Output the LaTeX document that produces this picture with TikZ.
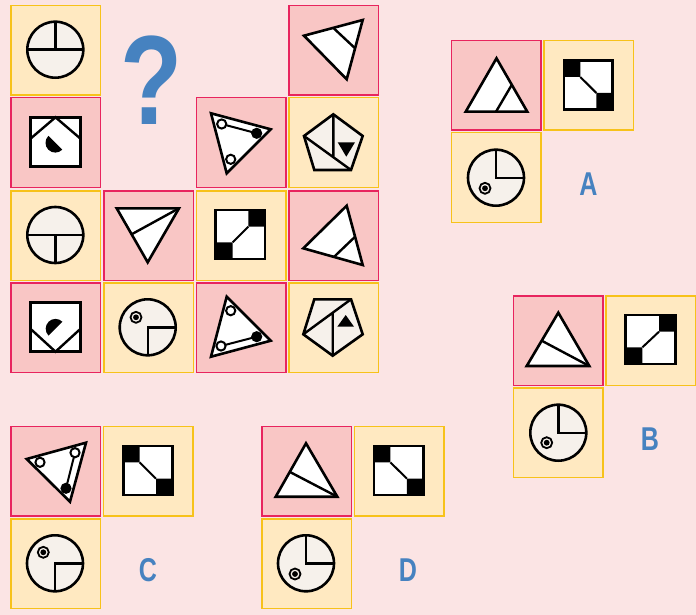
\documentclass[tikz,border=0pt]{standalone}
\usepackage{fontspec}
\setmainfont{Liberation Sans}
\definecolor{bg}{HTML}{FBE4E4}
\definecolor{redf}{HTML}{F9C6C5}
\definecolor{redb}{HTML}{E8245E}
\definecolor{yelf}{HTML}{FFE9C1}
\definecolor{yelb}{HTML}{F7C21A}
\definecolor{cream}{HTML}{F6F1EB}
\definecolor{qblue}{HTML}{4682C0}
\newcommand\myeye[1]{\draw[line width=1.8pt, fill=cream] #1 circle[radius=5.5]; \fill #1 circle[radius=2.9];}
\newcommand\myopen[1]{\draw[line width=2pt, fill=white] #1 circle[radius=4.6];}
\newcommand\myfull[1]{\fill #1 circle[radius=5.6];}
\begin{document}
\begin{tikzpicture}[x=1pt,y=-1pt,
  redcell/.style={draw=redb, fill=redf, line width=1.5pt, minimum size=89.5pt, inner sep=0pt},
  yelcell/.style={draw=yelb, fill=yelf, line width=1.5pt, minimum size=89.5pt, inner sep=0pt},
  shp/.style={draw=black, line width=2.6pt, fill=white},
  disk/.style={draw=black, line width=2.6pt, fill=cream},
  ln/.style={draw=black, line width=2.4pt},
  lbl/.style={text=qblue, anchor=base, inner sep=0pt, font=\bfseries\fontsize{33}{33}\selectfont}]
\useasboundingbox (0,0) rectangle (696,615);
\fill[bg] (0,0) rectangle (696,615);
% ---- main grid cells
\node[yelcell] (m11) at (55.5,50.5) {};
\node[redcell] (m21) at (55.5,142.5) {};
\node[yelcell] (m31) at (55.5,235.5) {};
\node[redcell] (m41) at (55.5,327.5) {};
\node[redcell] (m32) at (148.5,235.5) {};
\node[yelcell] (m42) at (148.5,327.5) {};
\node[redcell] (m23) at (241,142.5) {};
\node[yelcell] (m33) at (241,235.5) {};
\node[redcell] (m43) at (241,327.5) {};
\node[redcell] (m14) at (333.5,50.5) {};
\node[yelcell] (m24) at (333.5,142.5) {};
\node[redcell] (m34) at (333.5,235.5) {};
\node[yelcell] (m44) at (333.5,327.5) {};
\node[text=qblue, anchor=base, inner sep=0pt, font=\bfseries\fontsize{127}{127}\selectfont] (qm) at (151.5,124.3) {\scalebox{0.8}[1]{?}};
% ---- options cells
\node[redcell] (a1) at (496,85.5) {};
\node[yelcell] (a2) at (588.5,85.5) {};
\node[yelcell] (a3) at (496,177.5) {};
\node[redcell] (b1) at (558,340.5) {};
\node[yelcell] (b2) at (650.5,340.5) {};
\node[yelcell] (b3) at (558,432.5) {};
\node[redcell] (c1) at (55.5,471) {};
\node[yelcell] (c2) at (148,471) {};
\node[yelcell] (c3) at (55.5,563.5) {};
\node[redcell] (d1) at (306.5,471) {};
\node[yelcell] (d2) at (399,471) {};
\node[yelcell] (d3) at (306.5,563.5) {};
\node[lbl] (la) at (588.5,195.7) {\scalebox{0.76}[1]{A}};
\node[lbl] (lb) at (650,450.7) {\scalebox{0.76}[1]{B}};
\node[lbl] (lc) at (148,581.7) {\scalebox{0.76}[1]{C}};
\node[lbl] (ld) at (408,581.7) {\scalebox{0.76}[1]{D}};
% ---- main shapes
% r1c1
\draw[disk] (55.3,49.7) circle[radius=28];
\draw[ln] (27.3,49.7) -- (83.3,49.7) (55.3,21.7) -- (55.3,49.7);
% r2c1
\draw[shp] (30.7,117.3) rectangle (80.3,166.7);
\draw[ln] (30.7,138.5) -- (55.5,117.3) -- (80.3,138.5);
\fill (55.3,142.8) ++(45:9.8) arc[start angle=45, end angle=225, radius=9.8] -- cycle;
% r3c1
\draw[disk] (55.3,235) circle[radius=28];
\draw[ln] (27.3,235) -- (83.3,235) (55.3,235) -- (55.3,263);
% r4c1
\draw[shp] (30.7,302.3) rectangle (80.3,351.7);
\draw[ln] (30.7,329) -- (55.5,351.7) -- (80.3,329);
\fill (55.5,328.7) ++(135:9.8) arc[start angle=135, end angle=315, radius=9.8] -- cycle;
% r3c2
\draw[shp] (116.7,208.3) -- (179,208.3) -- (147.7,262.3) -- cycle;
\draw[ln] (179,208.3) -- (131.6,234.3);
% r4c2
\draw[disk] (147.7,327.3) circle[radius=28];
\draw[ln] (175.7,327.3) -- (147.7,327.3) -- (147.7,355.3);
\myeye{(136,317.3)}
% r2c3
\draw[shp] (211,113.3) -- (270.7,129.3) -- (226.7,173.3) -- cycle;
\draw[ln, line width=2pt] (221.7,124) -- (256.7,133.3);
\myopen{(221.7,124)} \myopen{(230.7,159.3)} \myfull{(256.7,133.3)}
% r1c4
\draw[shp] (304,35.7) -- (362.7,20) -- (346.7,79.3) -- cycle;
\draw[ln] (333.3,27.9) -- (355.1,48.3);
% r2c4
\draw[disk] (333.3,114.3) -- (362.7,136) -- (351,170) -- (314.3,170) -- (304,136) -- cycle;
\draw[ln] (333.3,114.3) -- (333.3,157.2) (304,136) -- (351,170);
\fill (337.7,142.3) -- (355,142.3) -- (346.3,156.7) -- cycle;
% r3c3
\draw[shp] (215.7,210) rectangle (265,259);
\fill (248.3,210) rectangle (265,226.7) (215.7,242.3) rectangle (232.7,259);
\draw[ln, line width=2pt] (232.7,242.3) -- (248.3,226.7);
\draw[line width=2.6pt] (215.7,210) rectangle (265,259);
% r3c4
\draw[shp] (303.3,248.3) -- (346.7,205.7) -- (362.7,265) -- cycle;
\draw[ln] (355.1,236.7) -- (334,256.9);
% r4c3
\draw[shp] (226.7,296.7) -- (270.7,340.7) -- (211,356.7) -- cycle;
\draw[ln, line width=2pt] (221,346) -- (256.7,336.7);
\myopen{(230.7,310.7)} \myopen{(221,346)} \myfull{(256.7,336.7)}
% r4c4
\draw[disk] (314.3,299.3) -- (351,299.3) -- (362.7,334.3) -- (332.7,355.7) -- (303.3,334.3) -- cycle;
\draw[ln] (351,299.3) -- (303.3,334.3) (332.7,355.7) -- (332.7,312.8);
\fill (337.3,326.7) -- (354,326.7) -- (345.7,315) -- cycle;
% ---- option A
\draw[shp] (465.7,111.7) -- (527.3,111.7) -- (496.5,58.3) -- cycle;
\draw[ln] (511.8,84.8) -- (496,111.7);
\fill[white] (564,60.7) rectangle (612.7,109.3);
\fill (564,60.7) rectangle (580.3,77) (596.4,93) rectangle (612.7,109.3);
\draw[ln, line width=2pt] (580.3,77) -- (596.4,93);
\draw[line width=2.6pt] (564,60.7) rectangle (612.7,109.3);
\draw[disk] (496,177.7) circle[radius=28];
\draw[ln] (496,149.7) -- (496,177.7) -- (524,177.7);
\myeye{(485,188.3)}
% ---- option B
\draw[shp] (526.7,366) -- (589.3,366) -- (558.3,312.7) -- cycle;
\draw[ln] (541.7,340.7) -- (589.3,366);
\fill[white] (625.7,315) rectangle (675.7,364);
\fill (659,315) rectangle (675.7,331.7) (625.7,347.3) rectangle (642.4,364);
\draw[ln, line width=2pt] (642.4,347.3) -- (659,331.7);
\draw[line width=2.6pt] (625.7,315) rectangle (675.7,364);
\draw[disk] (558.3,432.7) circle[radius=28];
\draw[ln] (558.3,404.7) -- (558.3,432.7) -- (586.3,432.7);
\myeye{(546.7,442.7)}
% ---- option C
\draw[shp] (26.7,459) -- (86,442.7) -- (70,501.7) -- cycle;
\draw[ln, line width=2pt] (75,452.7) -- (66,488.3);
\myopen{(40,462.3)} \myopen{(75,452.7)} \myfull{(66,488.3)}
\fill[white] (123.3,446) rectangle (172.3,495);
\fill (123.3,446) rectangle (139.6,462.3) (156,478.7) rectangle (172.3,495);
\draw[ln, line width=2pt] (139.6,462.3) -- (156,478.7);
\draw[line width=2.6pt] (123.3,446) rectangle (172.3,495);
\draw[disk] (55,563.3) circle[radius=28];
\draw[ln] (83,563.3) -- (55,563.3) -- (55,591.3);
\myeye{(43.3,552.3)}
% ---- option D
\draw[shp] (275.7,496.7) -- (337.3,496.7) -- (306,443.3) -- cycle;
\draw[ln] (289.4,471.7) -- (337.3,496.7);
\fill[white] (374,446) rectangle (423.3,495);
\fill (374,446) rectangle (390.4,462.4) (406.9,478.6) rectangle (423.3,495);
\draw[ln, line width=2pt] (390.4,462.4) -- (406.9,478.6);
\draw[line width=2.6pt] (374,446) rectangle (423.3,495);
\draw[disk] (306,563.3) circle[radius=28];
\draw[ln] (306,535.3) -- (306,563.3) -- (334,563.3);
\myeye{(295,574)}
\end{tikzpicture}
\end{document}
